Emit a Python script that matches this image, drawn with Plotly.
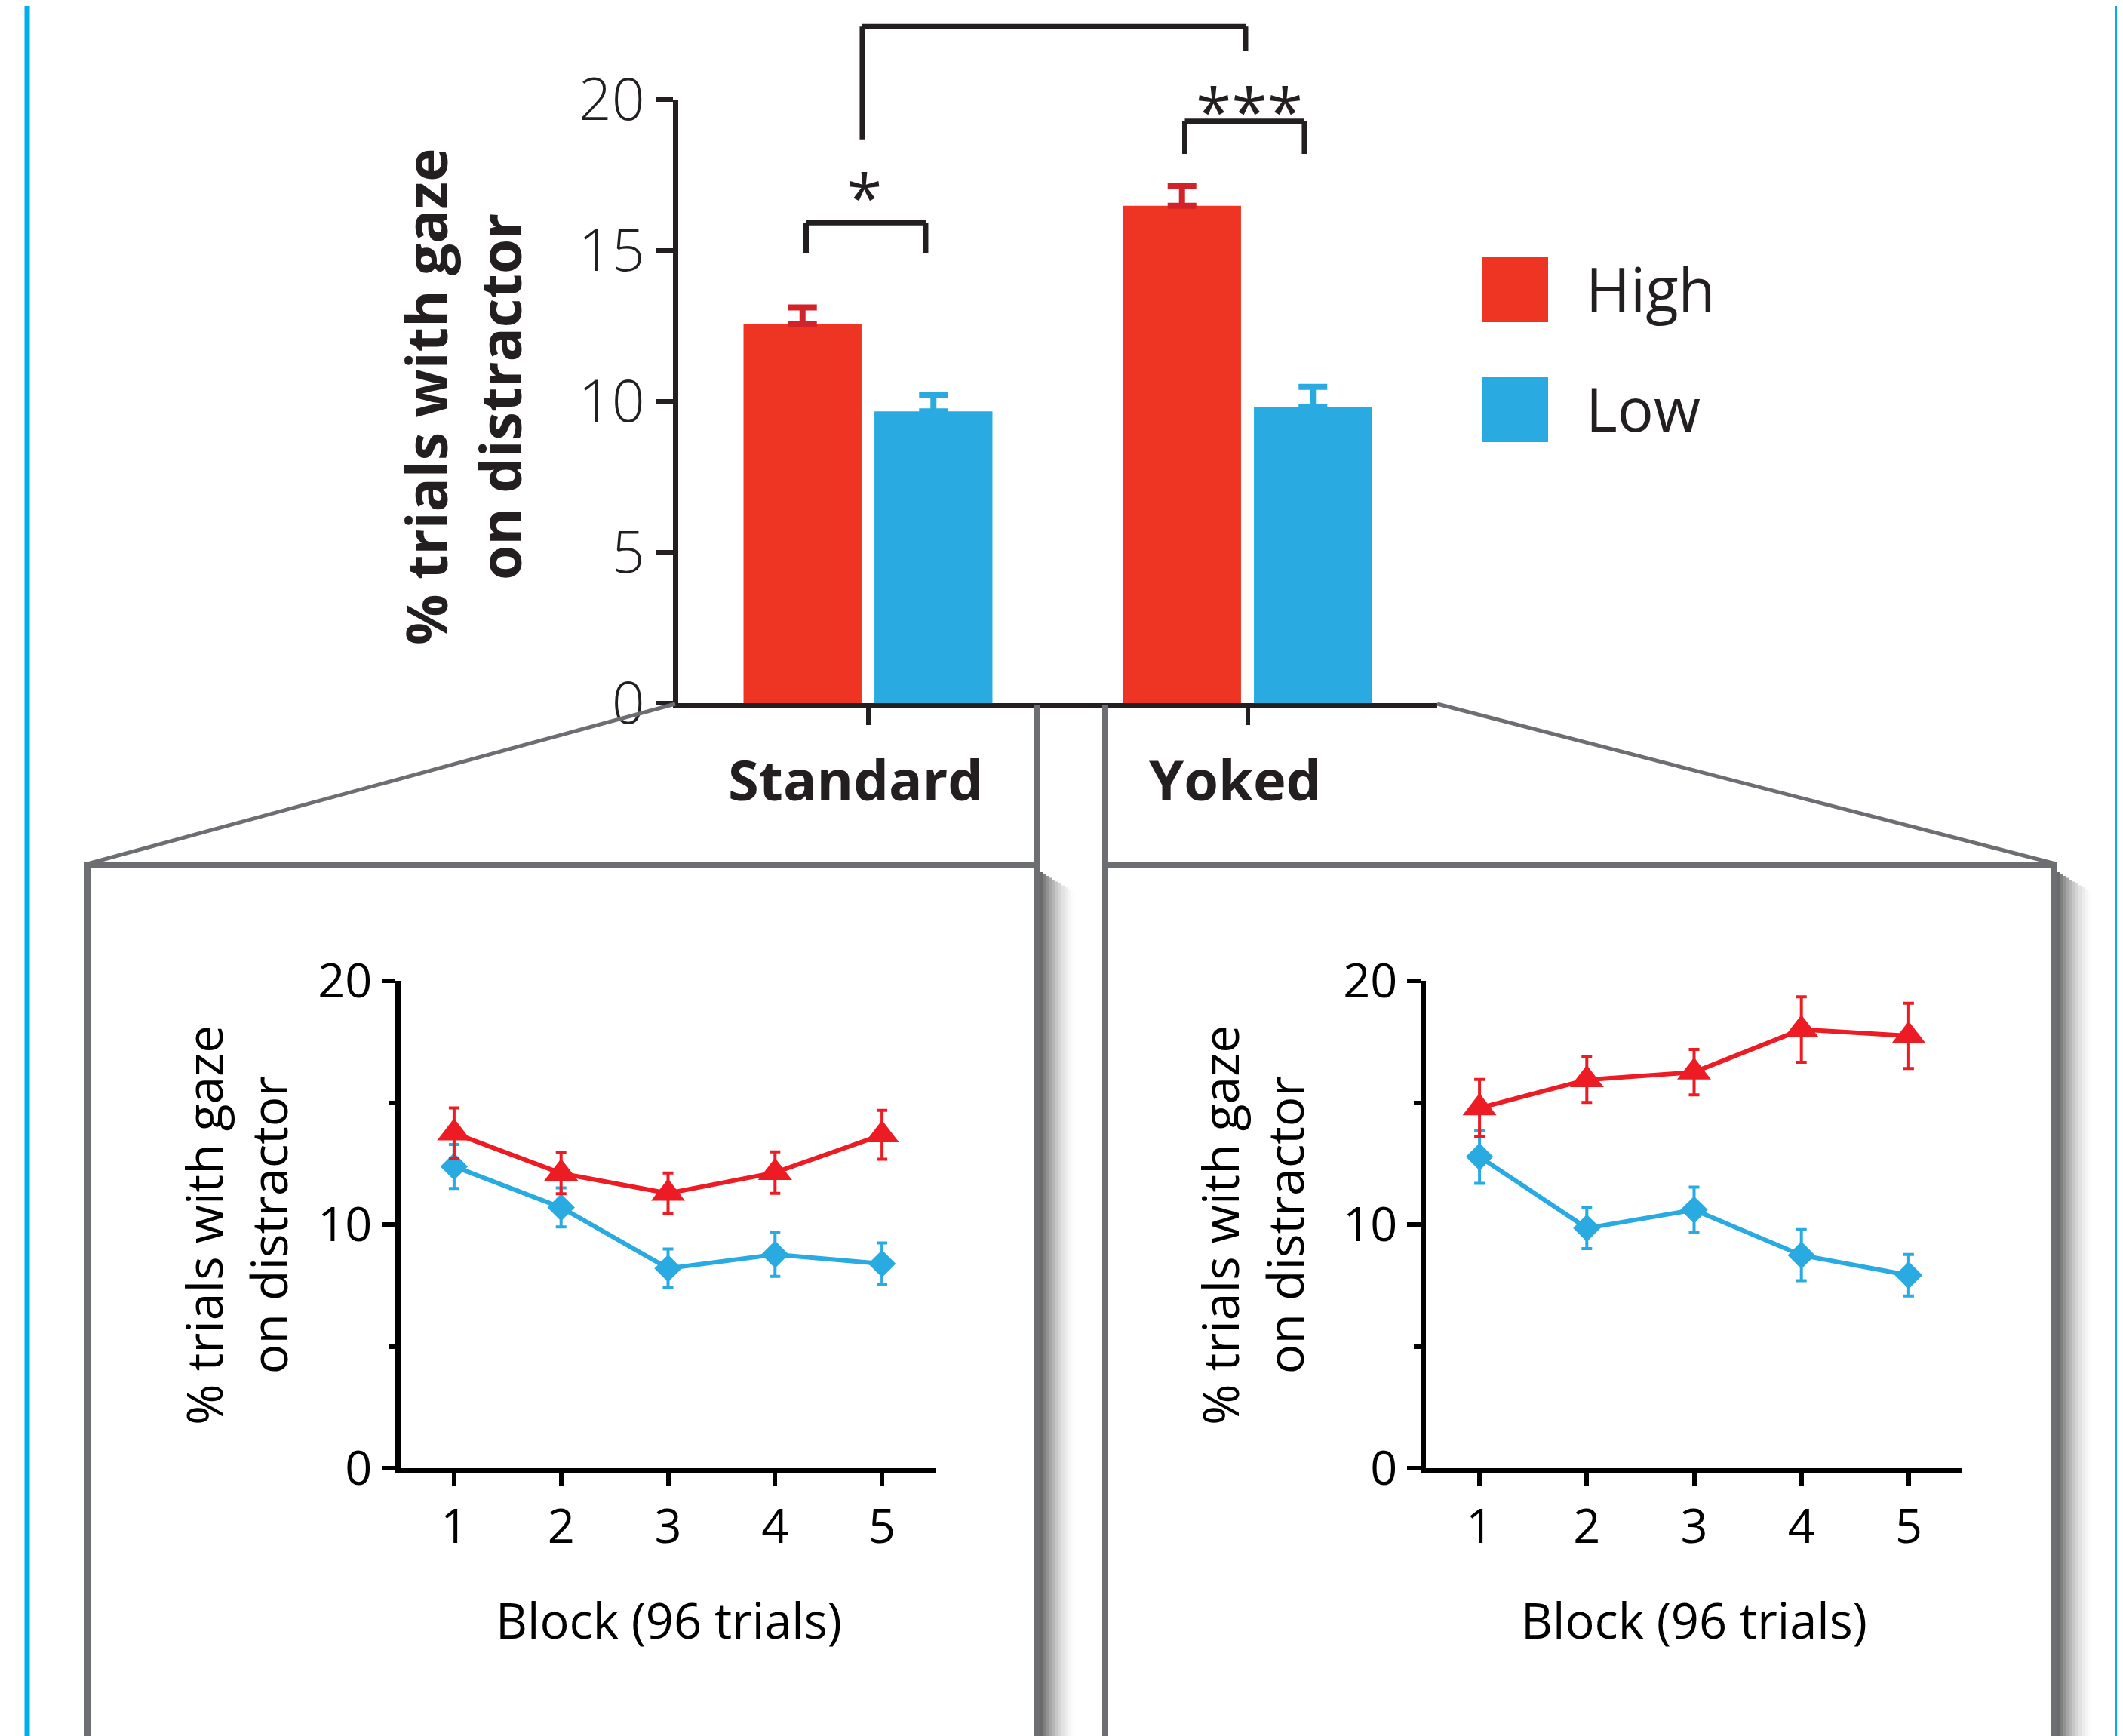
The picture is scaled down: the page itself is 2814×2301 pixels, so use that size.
import plotly.graph_objects as go

# ---------------- data ----------------
conditions = ["Standard", "Yoked"]
bar_high = [12.57, 16.48]
bar_high_err = [0.54, 0.65]
bar_low = [9.67, 9.80]
bar_low_err = [0.54, 0.68]

blocks = [1, 2, 3, 4, 5]
std_high = [13.75, 12.10, 11.28, 12.13, 13.68]
std_high_err = [1.03, 0.84, 0.83, 0.85, 1.00]
std_low = [12.38, 10.70, 8.20, 8.77, 8.39]
std_low_err = [0.90, 0.80, 0.79, 0.90, 0.85]

yok_high = [14.78, 15.94, 16.25, 18.00, 17.74]
yok_high_err = [1.17, 0.93, 0.93, 1.34, 1.34]
yok_low = [12.78, 9.85, 10.60, 8.74, 7.92]
yok_low_err = [1.09, 0.84, 0.93, 1.05, 0.85]

top_ticks = [0, 5, 10, 15, 20]
low_ticks = [0, 10, 20]
low_minor = [5, 15]
series_names = ["High", "Low"]
y_title = "% trials with gaze<br>on distractor"
x_title = "Block (96 trials)"

# ---------------- style ----------------
W, H = 2814, 2301
OFF = 8  # page body margin: figure is drawn 8 px right/down in the window
RED_BAR = "#ee3524"
RED_ERR = "#d2232a"
BLUE = "#29abe2"
RED_LINE = "#ed1c24"
GRAY = "#6d6e71"
DARK = "#231f20"
FONT = "Open Sans"


def px(x):
    return (x - OFF) / W


def py(y):
    return 1 - (y - OFF) / H


# top chart pixel frame (window pixels)
TOP_X0, TOP_X1 = 899, 1905
TOP_Y0, TOP_Y20 = 932, 132


def top_y(v):  # data value -> paper y for the top chart
    return py(TOP_Y0 + (TOP_Y20 - TOP_Y0) * v / 20.0)


fig = go.Figure()

# ---------- top bar chart ----------
fig.add_trace(go.Bar(
    x=conditions, y=bar_high, name=series_names[0], marker=dict(color=RED_BAR, line=dict(width=0)),
    width=0.311, offset=-0.328, showlegend=False,
    error_y=dict(type="data", array=bar_high_err, arrayminus=[0] * len(bar_high_err), symmetric=False,
                 color=RED_ERR, thickness=8, width=19),
    xaxis="x", yaxis="y"))
fig.add_trace(go.Bar(
    x=conditions, y=bar_low, name=series_names[1], marker=dict(color=BLUE, line=dict(width=0)),
    width=0.311, offset=0.017, showlegend=False,
    error_y=dict(type="data", array=bar_low_err, arrayminus=[0] * len(bar_low_err), symmetric=False,
                 color=BLUE, thickness=8, width=19),
    xaxis="x", yaxis="y"))

# ---------- lower line charts ----------
def add_lines(xa, ya, high, high_err, low, low_err):
    fig.add_trace(go.Scatter(
        x=blocks, y=low, mode="lines+markers", name=series_names[1], showlegend=False,
        line=dict(color=BLUE, width=6), marker=dict(symbol="diamond", size=28, color=BLUE),
        error_y=dict(type="data", array=low_err, color=BLUE, thickness=4, width=7),
        cliponaxis=False, xaxis=xa, yaxis=ya))
    fig.add_trace(go.Scatter(
        x=blocks, y=high, mode="lines+markers", name=series_names[0], showlegend=False,
        line=dict(color=RED_LINE, width=6), marker=dict(symbol="triangle-up", size=39, color=RED_LINE),
        error_y=dict(type="data", array=high_err, color=RED_LINE, thickness=4, width=7),
        cliponaxis=False, xaxis=xa, yaxis=ya))


add_lines("x2", "y2", std_high, std_high_err, std_low, std_low_err)
add_lines("x3", "y3", yok_high, yok_high_err, yok_low, yok_low_err)

# ---------- axes ----------
axis_common = dict(showgrid=False, zeroline=False, showline=True, ticks="outside", automargin=False)

fig.update_layout(
    xaxis=dict(domain=[px(TOP_X0), px(TOP_X1)], range=[-0.5, 1.5], anchor="y",
               linecolor=DARK, linewidth=7, tickcolor=DARK, tickwidth=6, ticklen=22,
               showticklabels=False, type="category", **axis_common),
    yaxis=dict(domain=[py(TOP_Y0), py(TOP_Y20)], range=[0, 20], anchor="x",
               tickvals=top_ticks, linecolor=DARK, linewidth=7, tickcolor=DARK, tickwidth=6, ticklen=22,
               tickfont=dict(family=FONT, size=77, color=DARK, weight=300), **axis_common),
    xaxis2=dict(domain=[px(531), px(1240)], range=[0.5, 5.5], anchor="y2", tickvals=blocks,
                linecolor="black", linewidth=7, tickcolor="black", tickwidth=6, ticklen=16,
                tickfont=dict(family=FONT, size=63, color="black"), **axis_common),
    yaxis2=dict(domain=[py(1946), py(1300)], range=[0, 20], anchor="x2", tickvals=low_ticks,
                linecolor="black", linewidth=7, tickcolor="black", tickwidth=6, ticklen=18,
                minor=dict(tickvals=low_minor, ticklen=9, tickwidth=6, tickcolor="black", ticks="outside"),
                tickfont=dict(family=FONT, size=63, color="black"), **axis_common),
    xaxis3=dict(domain=[px(1890), px(2601)], range=[0.5, 5.5], anchor="y3", tickvals=blocks,
                linecolor="black", linewidth=7, tickcolor="black", tickwidth=6, ticklen=16,
                tickfont=dict(family=FONT, size=63, color="black"), **axis_common),
    yaxis3=dict(domain=[py(1946), py(1300)], range=[0, 20], anchor="x3", tickvals=low_ticks,
                linecolor="black", linewidth=7, tickcolor="black", tickwidth=6, ticklen=18,
                minor=dict(tickvals=low_minor, ticklen=9, tickwidth=6, tickcolor="black", ticks="outside"),
                tickfont=dict(family=FONT, size=63, color="black"), **axis_common),
)

shapes = []
annotations = []


def pline(x0, y0, x1, y1, color=GRAY, width=8):
    shapes.append(dict(type="line", xref="paper", yref="paper", x0=px(x0), y0=py(y0), x1=px(x1), y1=py(y1),
                       line=dict(color=color, width=width)))


# blue frame edges
pline(36, 0, 36, H + OFF, color="#00aeef", width=7)
pline(2808, 0, 2808, H + OFF, color="#00aeef", width=8)

# shadows on right sides of the boxes
for xe in (1379, 2727):
    n = 11
    for i in range(n):
        a = 0.78 * (1 - i / n) ** 1.6
        shapes.append(dict(type="rect", xref="paper", yref="paper",
                           x0=px(xe + i * 4), x1=px(xe + i * 4 + 4), y0=py(1156 + i * 2.5), y1=py(H + OFF),
                           fillcolor="#404040", opacity=a, line=dict(width=0), layer="below"))

# zoom boxes and connectors
pline(116, H + OFF, 116, 1147)
pline(112, 1147, 1379, 1147)
pline(1375, 935, 1375, H + OFF)
pline(1465, 935, 1465, H + OFF)
pline(1461, 1147, 2727, 1147)
pline(2723, 1143, 2723, H + OFF)
pline(TOP_X0 - 4, 933, 116, 1145, width=5)
pline(TOP_X1, 933, 2725, 1145, width=5)

# significance brackets (x in category positions, y mapped from data values)
def bracket(xl, xr, y_left, y_right, y_top, width=7):
    for (a, b, c, d) in ((xl, y_left, xl, y_top), (xl, y_top, xr, y_top), (xr, y_top, xr, y_right)):
        shapes.append(dict(type="line", xref="x", yref="paper", x0=a, y0=top_y(b), x1=c, y1=top_y(d),
                           line=dict(color=DARK, width=width)))


bracket(-0.163, 0.152, 14.9, 14.9, 15.92)
bracket(1 - 0.165, 1 + 0.15, 18.2, 18.2, 19.28)
bracket(-0.015, 1 - 0.005, 18.68, 21.62, 22.42)

annotations.append(dict(x=-0.01, y=top_y(16.8), xref="x", yref="paper", text="*", showarrow=False,
                        font=dict(family=FONT, size=86, color=DARK), xanchor="center", yanchor="middle"))
annotations.append(dict(x=1 + 0.005, y=top_y(19.65), xref="x", yref="paper", text="***", showarrow=False,
                        font=dict(family=FONT, size=86, color=DARK), xanchor="center", yanchor="middle"))

# category labels
for i, c in enumerate(conditions):
    annotations.append(dict(x=i, y=py(1032), xref="x", yref="paper", text="<b>%s</b>" % c, showarrow=False,
                            xshift=-17, font=dict(family=FONT, size=74, color=DARK),
                            xanchor="center", yanchor="middle"))

# top y title
annotations.append(dict(x=px(613), y=py(526), xref="paper", yref="paper", text="<b>%s</b>" % y_title,
                        textangle=-90, showarrow=False, font=dict(family=FONT, size=75, color=DARK),
                        xanchor="center", yanchor="middle"))

# legend (manual)
leg = [(series_names[0], RED_BAR, 341), (series_names[1], BLUE, 500)]
for name, col, ytop in leg:
    shapes.append(dict(type="rect", xref="paper", yref="paper", x0=px(1965), x1=px(2052),
                       y0=py(ytop), y1=py(ytop + 86), fillcolor=col, line=dict(width=0)))
    annotations.append(dict(x=px(2100), y=py(ytop + 40), xref="paper", yref="paper", text=name,
                            showarrow=False, font=dict(family=FONT, size=80, color=DARK),
                            xanchor="left", yanchor="middle"))

# lower panel titles
for xc_title, xc_block in ((312, 886), (1659, 2245)):
    annotations.append(dict(x=px(xc_title), y=py(1624), xref="paper", yref="paper", text=y_title,
                            textangle=-90, showarrow=False, font=dict(family=FONT, size=66, color="black"),
                            xanchor="center", yanchor="middle"))
    annotations.append(dict(x=px(xc_block), y=py(2147), xref="paper", yref="paper", text=x_title,
                            showarrow=False, font=dict(family=FONT, size=65, color="black"),
                            xanchor="center", yanchor="middle"))

fig.update_layout(
    width=W, height=H, autosize=False,
    margin=dict(l=0, r=0, t=0, b=0, pad=0, autoexpand=False),
    paper_bgcolor="white", plot_bgcolor="rgba(0,0,0,0)",
    barmode="overlay", showlegend=False,
    shapes=shapes, annotations=annotations,
    font=dict(family=FONT),
)

fig.write_html("out.html")
